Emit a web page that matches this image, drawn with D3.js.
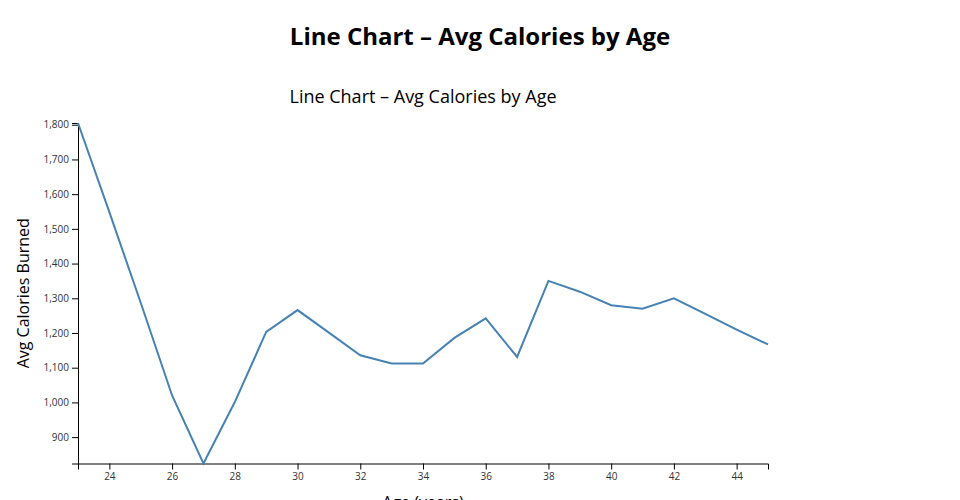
<!DOCTYPE html>
<html><head><meta charset="utf-8">
<script src="https://cdn.jsdelivr.net/npm/d3@7"></script>
<style>
body{margin:0;background:#fff;font-family:"Open Sans",sans-serif;}
svg text{font-family:"Open Sans",sans-serif;}
.tick text{font-family:"Open Sans",sans-serif;fill:#333;}
</style></head>
<body>
<svg id="chart" width="960" height="500"></svg>
<script>
const pageTitle = "Line Chart – Avg Calories by Age";
const chartTitle = "Line Chart – Avg Calories by Age";
const xLabel = "Age (years)";
const yLabel = "Avg Calories Burned";
const ages = [23,24,25,26,27,28,29,30,31,32,33,34,35,36,37,38,39,40,41,42,43,44,45];
const calories = [1805,1548,1287,1020,824,1001,1203,1266,1201,1136,1112,1112,1186,1242,1131,1350,1319,1280,1270,1300,1255,1210,1167];
const xTicks = [24,26,28,30,32,34,36,38,40,42,44];
const yTicks = [900,1000,1100,1200,1300,1400,1500,1600,1700,1800];

const data = ages.map((a,i)=>({age:a, cal:calories[i]}));
const svg = d3.select("#chart");
const mLeft=78, mRight=768, mTop=123, mBottom=463.5;

svg.append("text").attr("x",480).attr("y",45).attr("text-anchor","middle")
  .attr("font-size",24).attr("font-weight","bold").attr("fill","#000").text(pageTitle);
svg.append("text").attr("x",423).attr("y",103).attr("text-anchor","middle")
  .attr("font-size",18).attr("fill","#000").text(chartTitle);

const x = d3.scaleLinear().domain(d3.extent(ages)).range([mLeft,mRight]);
const y = d3.scaleLinear().domain(d3.extent(calories)).range([mBottom,mTop]);

svg.append("g").attr("transform",`translate(0,${mBottom})`)
  .call(d3.axisBottom(x).tickValues(xTicks).tickFormat(d3.format("d")))
  .call(g=>g.selectAll("text").attr("font-family","Open Sans"));
svg.append("g").attr("transform",`translate(${mLeft},0)`)
  .call(d3.axisLeft(y).tickValues(yTicks).tickFormat(d3.format(",")))
  .call(g=>g.selectAll("text").attr("font-family","Open Sans"));

svg.append("path").datum(data).attr("fill","none").attr("stroke","steelblue")
  .attr("stroke-width",2)
  .attr("d",d3.line().x(d=>x(d.age)).y(d=>y(d.cal)));

svg.append("text").attr("transform",`translate(29,${(mTop+mBottom)/2}) rotate(-90)`)
  .attr("text-anchor","middle").attr("font-size",16).attr("fill","#000").text(yLabel);
svg.append("text").attr("x",(mLeft+mRight)/2).attr("y",508).attr("text-anchor","middle")
  .attr("font-size",16).attr("fill","#000").text(xLabel);
</script>
</body></html>
